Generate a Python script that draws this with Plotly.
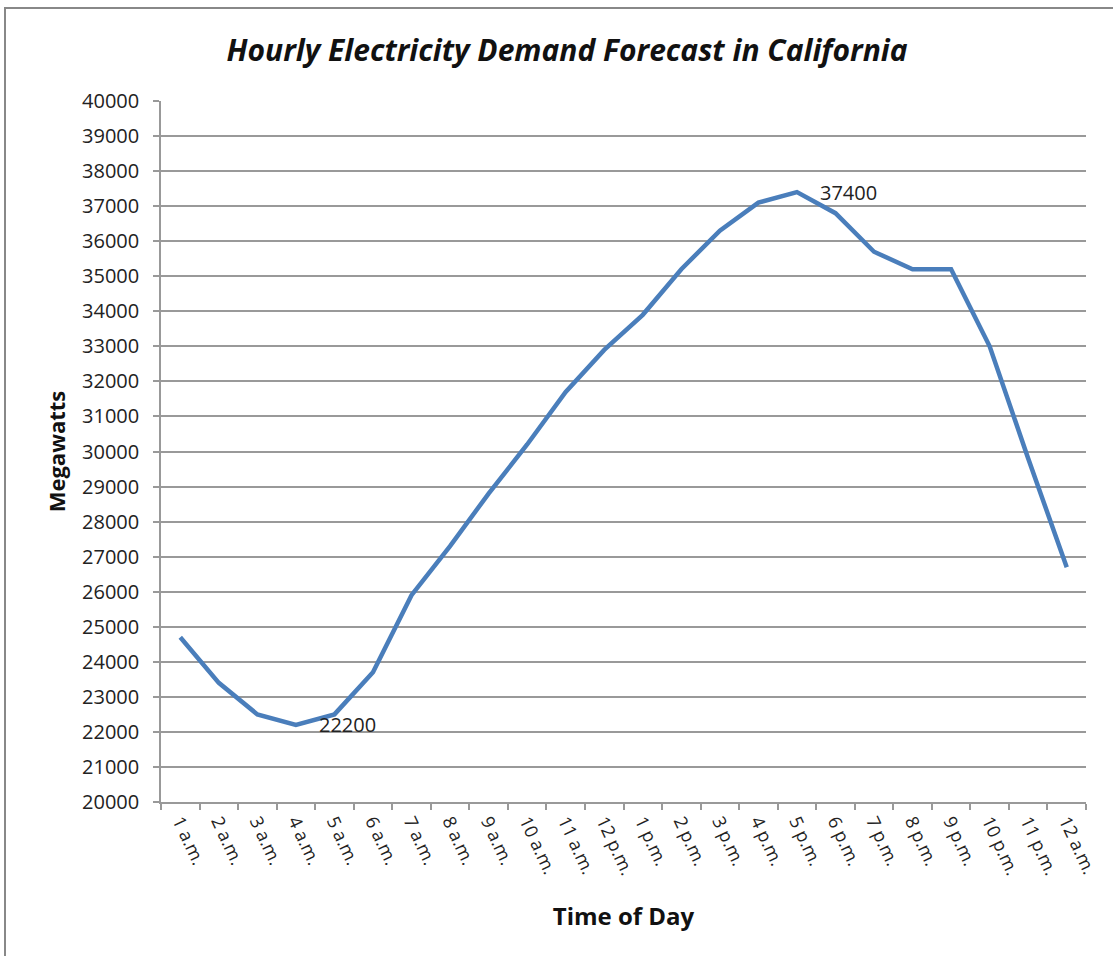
import plotly.graph_objects as go

hours = ["1 a.m.", "2 a.m.", "3 a.m.", "4 a.m.", "5 a.m.", "6 a.m.", "7 a.m.", "8 a.m.",
         "9 a.m.", "10 a.m.", "11 a.m.", "12 p.m.", "1 p.m.", "2 p.m.", "3 p.m.", "4 p.m.",
         "5 p.m.", "6 p.m.", "7 p.m.", "8 p.m.", "9 p.m.", "10 p.m.", "11 p.m.", "12 a.m."]
demand = [24700, 23400, 22500, 22200, 22500, 23700, 25900, 27300,
          28800, 30200, 31700, 32900, 33900, 35200, 36300, 37100,
          37400, 36800, 35700, 35200, 35200, 33000, 29800, 26700]
label_points = [("4 a.m.", 22200), ("5 p.m.", 37400)]

FONT = "Open Sans"
fig = go.Figure()
fig.add_trace(go.Scatter(x=hours, y=demand, mode="lines",
                         line=dict(color="#4A7EBB", width=4.5), showlegend=False))

for cat, val in label_points:
    fig.add_annotation(x=cat, y=val, text=str(val), showarrow=False,
                       xanchor="left", yanchor="middle", xshift=21,
                       font=dict(family=FONT, size=20, color="#222"))

fig.update_layout(
    width=1113, height=956,
    margin=dict(l=161, r=27, t=101, b=154),
    paper_bgcolor="white", plot_bgcolor="white",
    title=dict(text="<b><i>Hourly Electricity Demand Forecast in California</i></b>",
               x=(567 - 161) / 925, xref="paper", xanchor="center",
               y=1 - 50 / 956, yanchor="middle",
               font=dict(family=FONT, size=30, color="#111")),
    font=dict(family=FONT, color="#222"),
    xaxis=dict(showgrid=False, showline=True, linecolor="#999", linewidth=1.5,
               range=[-0.5, len(hours) - 0.5], automargin=False,
               ticks="outside", ticklen=6, tickcolor="#999", tickwidth=1.5,
               tickson="boundaries", tickangle=65,
               tickfont=dict(family=FONT, size=18, color="#222"),
               title=dict(text="<b>Time of Day</b>", font=dict(family=FONT, size=24, color="#111"),
                          standoff=30)),
    yaxis=dict(range=[20000, 40000], dtick=1000, showgrid=True, gridcolor="#999", gridwidth=1.5,
               showline=True, linecolor="#999", linewidth=1.5, automargin=False,
               ticks="outside", ticklen=6, tickcolor="#999", tickwidth=1.5,
               tickformat="d", zeroline=False, ticklabelstandoff=10,
               tickfont=dict(family=FONT, size=20, color="#222"),
               title=dict(text="<b>Megawatts</b>", font=dict(family=FONT, size=22, color="#111"),
                          standoff=10)),
)

fig.add_shape(type="rect", xref="paper", yref="paper",
              x0=(5 - 161) / 925, x1=1.2, y0=-0.4, y1=1 + (101 - 8) / 701,
              line=dict(color="#888", width=2), layer="below")

fig.write_html("out.html", config={"displayModeBar": False},
               post_script="document.body.style.margin='0';")
